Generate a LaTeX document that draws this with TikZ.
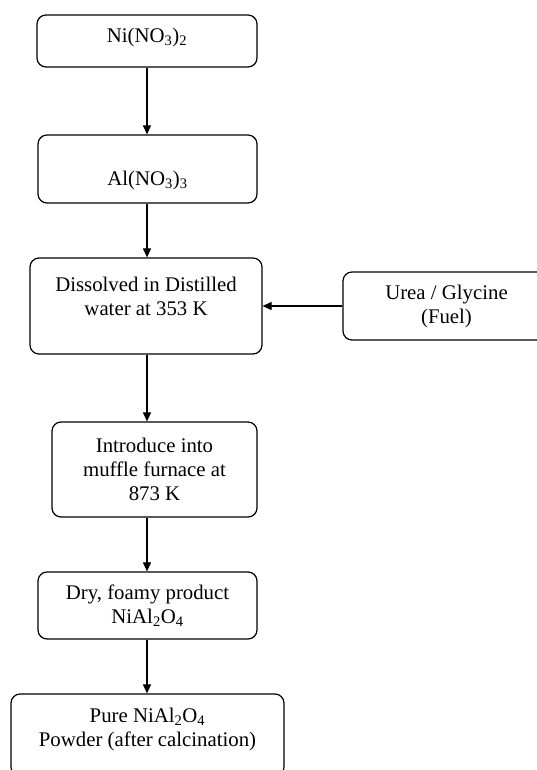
\documentclass[tikz,border=0pt]{standalone}
\usepackage{fontspec}
\setmainfont{Liberation Serif}
\usetikzlibrary{arrows.meta}
\begin{document}
\begin{tikzpicture}[x=1pt,y=-1pt,
  box/.style={draw, line width=1.2pt, rounded corners=9pt, align=center, inner sep=0pt,
    font=\fontsize{20.8}{24}\selectfont},
  txt/.style={align=center, inner sep=0pt, font=\fontsize{20.8}{24}\selectfont},
  arr/.style={line width=1.1pt, -{Triangle[length=9pt,width=8pt]}}]
\useasboundingbox (0,0) rectangle (537,770);
\begin{scope}
\clip (0,0) rectangle (537,770);
\node[box, minimum width=220pt, minimum height=52pt] (n1) at (147,41) {};
\node[txt] (n1t) at (147,37.5) {Ni(NO\textsubscript{3})\textsubscript{2}};
\node[box, minimum width=219pt, minimum height=68pt] (n2) at (147.5,169) {};
\node[txt] (n2t) at (147.5,180) {Al(NO\textsubscript{3})\textsubscript{3}};
\node[box, minimum width=232pt, minimum height=96pt] (n3) at (146,306) {};
\node[txt] (n3t) at (146,296) {Dissolved in Distilled\\water at 353 K};
\node[box, minimum width=207pt, minimum height=68pt] (urea) at (446.5,306) {Urea / Glycine\\(Fuel)};
\node[box, minimum width=205pt, minimum height=95pt] (n4) at (154.5,469.5) {Introduce into\\muffle furnace at\\873 K};
\node[box, minimum width=219pt, minimum height=67pt] (n5) at (147.5,605.5) {Dry, foamy product\\NiAl\textsubscript{2}O\textsubscript{4}};
\node[box, minimum width=273pt, minimum height=82pt] (n6) at (147.5,735) {};
\node[txt] (n6t) at (147.5,729) {Pure NiAl\textsubscript{2}O\textsubscript{4}\\Powder (after calcination)};
\end{scope}
\draw[arr] (n1.south) -- (n1.south |- n2.north);
\draw[arr] (n1.south |- n2.south) -- (n1.south |- n3.north);
\draw[arr] (urea.west) -- (n3.east |- urea.west);
\draw[arr] (n1.south |- n3.south) -- (n1.south |- n4.north);
\draw[arr] (n1.south |- n4.south) -- (n1.south |- n5.north);
\draw[arr] (n1.south |- n5.south) -- (n1.south |- n6.north);
\end{tikzpicture}
\end{document}
